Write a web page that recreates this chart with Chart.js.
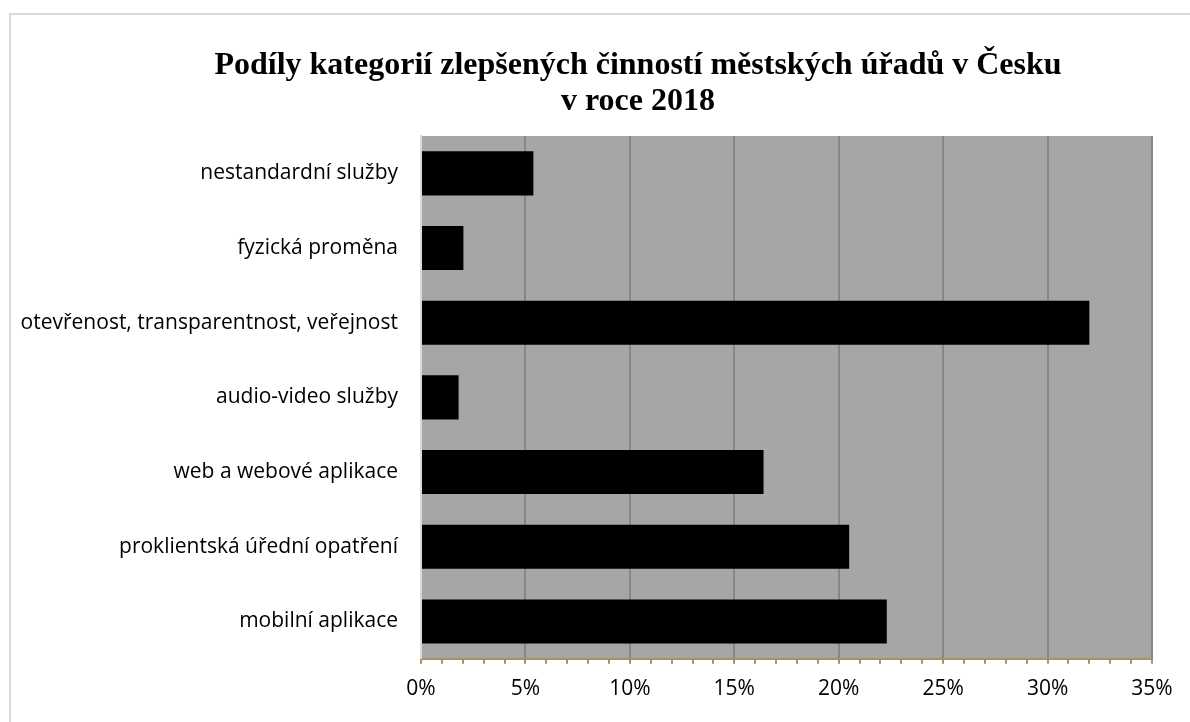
<!DOCTYPE html>
<html>
<head>
<meta charset="utf-8">
<script src="https://cdn.jsdelivr.net/npm/chart.js@4/dist/chart.umd.min.js"></script>
<style>
    html, body { margin: 0; padding: 0; background: #fff; overflow: hidden; width: 1190px; height: 722px; }
    #frame {
        position: absolute; left: 9px; top: 13px;
        width: 1254px; height: 740px;
        border: 2px solid #d9d9d9; background: #fff;
    }
    #chart { display: block; }
</style>
</head>
<body>
<div id="frame">
    <canvas id="chart" width="1254" height="740"></canvas>
</div>
<script>
const titleLines = ['Podíly kategorií zlepšených činností městských úřadů v Česku', 'v roce 2018'];
const categories = [
    'nestandardní služby',
    'fyzická proměna',
    'otevřenost, transparentnost, veřejnost',
    'audio-video služby',
    'web a webové aplikace',
    'proklientská úřední opatření',
    'mobilní aplikace'
];
const shares = [5.38, 2.03, 32.0, 1.8, 16.4, 20.5, 22.3];
const axisMin = 0;
const axisMax = 35;
const majorStep = 5;

// grey plot background like the Excel plot area
const plotBackground = {
    id: 'plotBackground',
    beforeDraw: (chart) => {
        const { ctx, chartArea } = chart;
        ctx.save();
        ctx.fillStyle = '#a6a6a6';
        ctx.fillRect(chartArea.left, chartArea.top, chartArea.right - chartArea.left, chartArea.bottom - chartArea.top);
        ctx.restore();
    }
};

// centre the title on the whole chart, not on the padded box
const titleOnFullWidth = {
    id: 'titleOnFullWidth',
    afterLayout: (chart) => {
        if (chart.titleBlock) {
            chart.titleBlock.left = 0;
            chart.titleBlock.right = chart.width;
        }
    }
};

const labelFont = { family: '"Open Sans", "Liberation Sans", sans-serif', size: 21 };

window.shareChart = new Chart(document.getElementById('chart').getContext('2d'), {
    type: 'bar',
    data: {
        labels: categories,
        datasets: [{
            label: 'Podíl',
            data: shares,
            backgroundColor: '#000000',
            borderWidth: 0,
            barPercentage: 0.59,
            categoryPercentage: 1
        }]
    },
    options: {
        indexAxis: 'y',
        responsive: false,
        animation: false,
        devicePixelRatio: 1,
        layout: { padding: { left: 0, right: 113, top: 0, bottom: 40 } },
        plugins: {
            legend: { display: false },
            tooltip: { enabled: false },
            title: {
                display: true,
                text: titleLines,
                color: '#000',
                font: { family: '"Liberation Serif", "Times New Roman", serif', size: 32, weight: 'bold', lineHeight: 1.125 },
                padding: { top: 33, bottom: 16 }
            }
        },
        scales: {
            x: {
                min: axisMin,
                max: axisMax,
                ticks: {
                    stepSize: 1,
                    autoSkip: false,
                    maxRotation: 0,
                    color: '#000',
                    font: labelFont,
                    padding: 13,
                    callback: (v) => (v % majorStep === 0 ? v + '%' : '')
                },
                grid: {
                    color: (c) => (c.tick && c.tick.value % majorStep === 0 && c.tick.value !== axisMin ? '#868686' : 'rgba(0,0,0,0)'),
                    lineWidth: 2,
                    tickColor: '#a09560',
                    tickLength: 5
                },
                border: { color: '#a09560', width: 2 }
            },
            y: {
                ticks: { color: '#000', font: labelFont, padding: 15 },
                grid: { display: false },
                border: { color: '#d9d9d9', width: 2 },
                afterFit: (scale) => { scale.width = 410; }
            }
        }
    },
    plugins: [plotBackground, titleOnFullWidth]
});
</script>
</body>
</html>
